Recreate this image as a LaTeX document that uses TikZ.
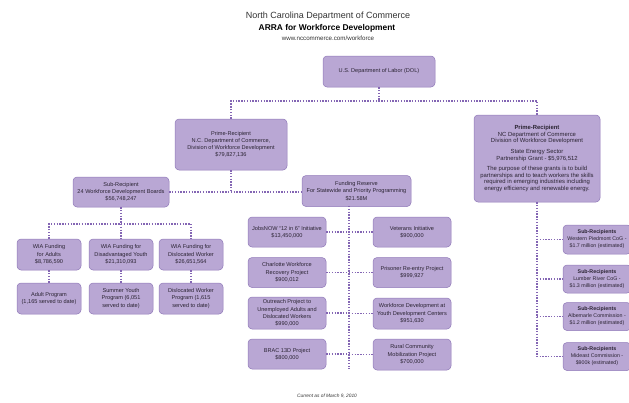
\documentclass[tikz,border=0pt]{standalone}
\usepackage{fontspec}
\setmainfont{Liberation Sans}
\definecolor{boxfill}{HTML}{B9A7D4}
\definecolor{boxline}{HTML}{9079B8}
\definecolor{linkc}{HTML}{8466B4}
\definecolor{boxtext}{HTML}{2B2433}
\definecolor{titlec}{HTML}{333333}
\tikzset{
  box/.style={draw=boxline, fill=boxfill, rounded corners=4pt, line width=0.5pt,
    align=center, inner sep=1pt, text=boxtext, font=\fontsize{5.6}{7.2}\selectfont},
  link/.style={draw=linkc, line width=1.7pt, dash pattern=on 1.4pt off 1.4pt},
}
\begin{document}
\begin{tikzpicture}[x=1pt,y=-1pt]
\useasboundingbox (0,0) rectangle (629,402);
\clip (0,0) rectangle (629,402);
\fill[white] (0,0) rectangle (629,402);

% titles
\node[font=\fontsize{9}{10}\selectfont, text=titlec] (t1) at (328,16) {North Carolina Department of Commerce};
\node[font=\bfseries\fontsize{8.4}{10}\selectfont, text=black] (t2) at (327,28) {ARRA for Workforce Development};
\node[font=\fontsize{6.2}{7}\selectfont, text=titlec] (t3) at (328,38) {www.nccommerce.com/workforce};

% top
\node[box, minimum width=112pt, minimum height=31pt] (dol) at (379,71.5) {U.S. Department of Labor (DOL)};
\node[box, minimum width=112pt, minimum height=51pt] (primeL) at (231,144.5)
  {Prime-Recipient\\N.C. Department of Commerce,\\Division of Workforce Development\\\$79,827,136};
\node[box, minimum width=126pt, minimum height=87pt, font=\fontsize{5.9}{6.6}\selectfont] (primeR) at (537,158.5)
  {\textbf{Prime-Recipient}\\NC Department of Commerce\\Division of Workforce Development\\[4pt]
   State Energy Sector\\Partnership Grant - \$5,976,512\\[4pt]
   The purpose of these grants is to build\\partnerships and to teach workers the skills\\
   required in emerging industries including\\energy efficiency and renewable energy.};

\node[box, minimum width=96pt, minimum height=30pt] (subL) at (121,192)
  {Sub-Recipient\\24 Workforce Development Boards\\\$56,748,247};
\node[box, minimum width=109pt, minimum height=31pt] (fund) at (356.5,191)
  {Funding Reserve\\For Statewide and Priority Programming\\\$21.58M};

% WIA row
\node[box, minimum width=64pt, minimum height=31pt] (wia1) at (49,254.5) {WIA Funding\\for Adults\\\$8,786,590};
\node[box, minimum width=64pt, minimum height=31pt] (wia2) at (121,254.5) {WIA Funding for\\Disadvantaged Youth\\\$21,310,093};
\node[box, minimum width=64pt, minimum height=31pt] (wia3) at (191,254.5) {WIA Funding for\\Dislocated Worker\\\$26,651,564};
\node[box, minimum width=64pt, minimum height=31pt] (prog1) at (49,298.5) {Adult Program\\(1,165 served to date)};
\node[box, minimum width=64pt, minimum height=31pt] (prog2) at (121,298.5) {Summer Youth\\Program (6,051\\served to date)};
\node[box, minimum width=64pt, minimum height=31pt] (prog3) at (191,298.5) {Dislocated Worker\\Program (1,615\\served to date)};

% projects
\node[box, minimum width=78pt, minimum height=30pt] (l1) at (287,232) {JobsNOW ``12 in 6'' Initiative\\\$13,450,000};
\node[box, minimum width=78pt, minimum height=30pt] (l2) at (287,272.5) {Charlotte Workforce\\Recovery Project\\\$900,012};
\node[box, minimum width=78pt, minimum height=32pt] (l3) at (287,313) {Outreach Project to\\Unemployed Adults and\\Dislocated Workers\\\$990,000};
\node[box, minimum width=78pt, minimum height=30pt] (l4) at (287,354) {BRAC 13D Project\\\$800,000};
\node[box, minimum width=78pt, minimum height=30pt] (r1) at (412,232) {Veterans Initiative\\\$900,000};
\node[box, minimum width=78pt, minimum height=30pt] (r2) at (412,272.5) {Prisoner Re-entry Project\\\$999,927};
\node[box, minimum width=78pt, minimum height=31pt] (r3) at (412,313.5) {Workforce Development at\\Youth Development Centers\\\$951,630};
\node[box, minimum width=78pt, minimum height=31pt] (r4) at (412,354.5) {Rural Community\\Mobilization Project\\\$700,000};

% right sub-recipients
\tikzset{sub/.style={box, minimum width=68pt, minimum height=28pt, font=\fontsize{5.3}{7}\selectfont}}
\node[sub, minimum height=29pt] (s1) at (597,239.5) {\textbf{Sub-Recipients}\\Western Piedmont CoG -\\\$1.7 million (estimated)};
\node[sub] (s2) at (597,279) {\textbf{Sub-Recipients}\\Lumber River CoG -\\\$1.3 million (estimated)};
\node[sub] (s3) at (597,316.5) {\textbf{Sub-Recipients}\\Albemarle Commission -\\\$1.2 million (estimated)};
\node[sub] (s4) at (597,356.5) {\textbf{Sub-Recipients}\\Mideast Commission -\\\$900k (estimated)};

\node[font=\itshape\fontsize{4.8}{5}\selectfont, text=titlec] (foot) at (327,396) {Current as of March 9, 2010};

% connectors
\coordinate (top) at (379,101);
\coordinate (mid) at (231,192);
\coordinate (wbar) at (121,224);
\coordinate (spine) at (349,206);
\coordinate (spineEnd) at (349,369);
\coordinate (rspine) at (537,202);

\draw[link] (dol.south) -- (top);
\draw[link] (primeL.north) |- (top) -| (primeR.north);
\draw[link] (primeL.south) -- (mid);
\draw[link] (subL.east) -- (fund.west |- subL.east);
\draw[link] (subL.south) -- (wbar);
\draw[link] (wia1.north) |- (wbar) -| (wia3.north);
\draw[link] (wbar) -- (wia2.north);
\draw[link] (wia1.south) -- (prog1.north);
\draw[link] (wia2.south) -- (prog2.north);
\draw[link] (wia3.south) -- (prog3.north);
\draw[link] (spine) -- (spineEnd);
\foreach \n in {l1,l2,l3,l4}{\draw[link] (\n.east) -- (spine |- \n.east);}
\foreach \n in {r1,r2,r3,r4}{\draw[link] (spine |- \n.west) -- (\n.west);}
\draw[link] (primeR.south) |- (s4.west);
\foreach \n in {s1,s2,s3}{\draw[link] (rspine |- \n.west) -- (\n.west);}
\end{tikzpicture}
\end{document}
